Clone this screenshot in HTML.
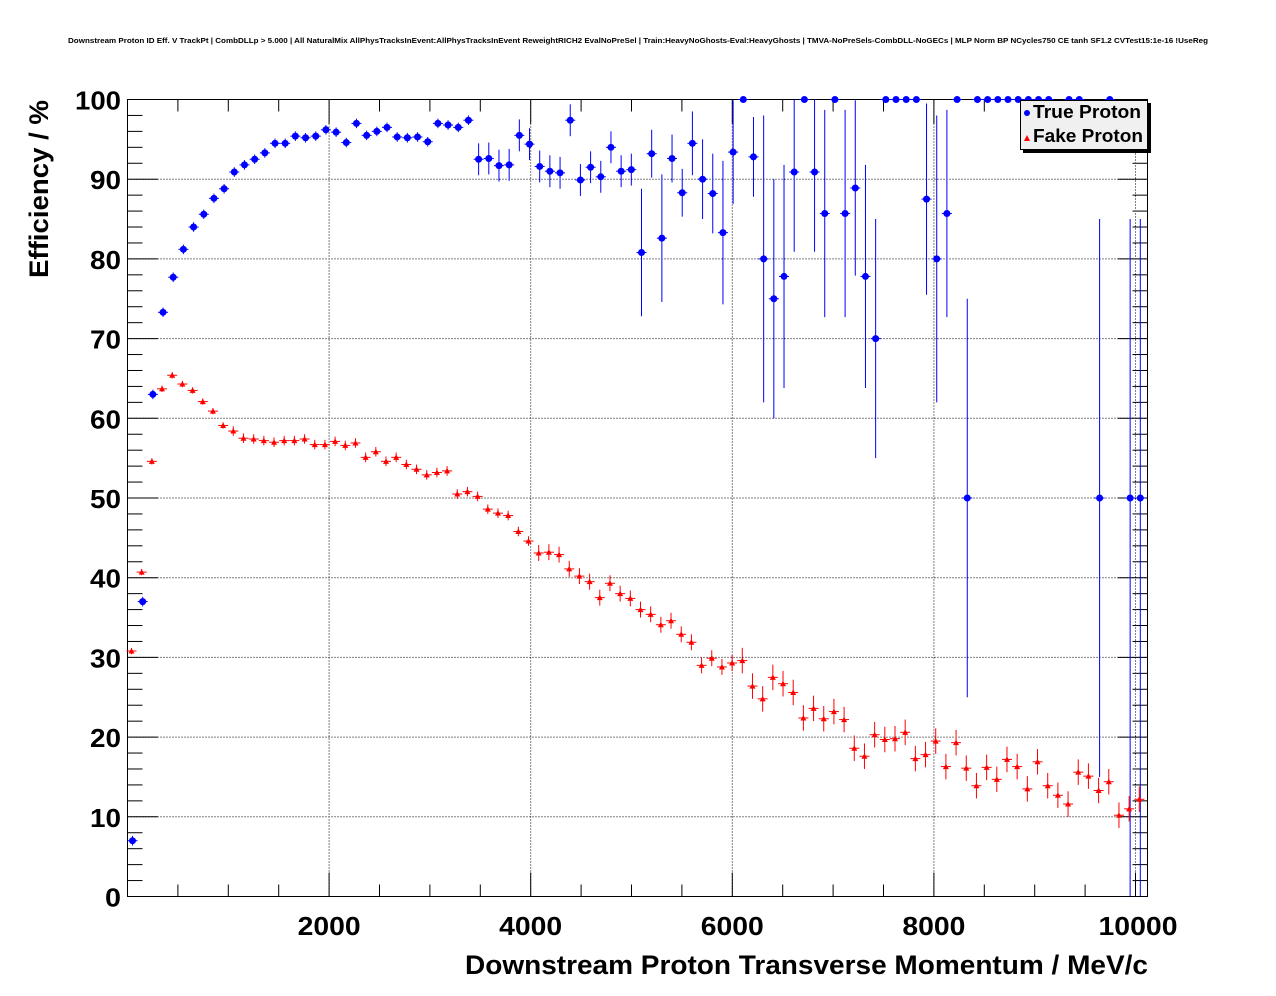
<!DOCTYPE html>
<html><head><meta charset="utf-8"><style>
html,body{margin:0;padding:0;background:#fff;}
svg{display:block;font-family:"Liberation Sans",sans-serif;}
</style></head><body>
<svg id="s" width="1276" height="996" xmlns="http://www.w3.org/2000/svg">
<rect width="1276" height="996" fill="#fff"/>
<text x="68" y="43" font-size="7.5" font-weight="bold" textLength="1140" lengthAdjust="spacingAndGlyphs">Downstream Proton ID Eff. V TrackPt | CombDLLp &gt; 5.000 | All NaturalMix AllPhysTracksInEvent:AllPhysTracksInEvent ReweightRICH2 EvalNoPreSel | Train:HeavyNoGhosts-Eval:HeavyGhosts | TMVA-NoPreSels-CombDLL-NoGECs | MLP Norm BP NCycles750 CE tanh SF1.2 CVTest15:1e-16 !UseReg</text>
<g id="grid" stroke="#000" stroke-width="1" stroke-dasharray="1,2"></g>
<g id="ticks" stroke="#000" stroke-width="1"></g>
<rect x="127.5" y="99.5" width="1020" height="797" fill="none" stroke="#000" stroke-width="1"/>
<g id="labels" font-size="26" font-weight="bold"></g>
<text x="465" y="974" font-size="27" font-weight="bold" textLength="683" lengthAdjust="spacingAndGlyphs">Downstream Proton Transverse Momentum / MeV/c</text>
<text transform="translate(48,278) rotate(-90)" font-size="27" font-weight="bold" textLength="178" lengthAdjust="spacingAndGlyphs">Efficiency / %</text>
<g id="data"></g>
<rect x="1023" y="103" width="128" height="50" fill="#000"/>
<rect x="1020.5" y="100.5" width="127" height="49" fill="#f0f0f0" stroke="#000"/>
<circle cx="1027" cy="113" r="3" fill="#00f"/>
<text x="1033" y="118" font-size="18" font-weight="bold" textLength="108" lengthAdjust="spacingAndGlyphs">True Proton</text>
<path d="M1024,141 L1030,141 L1027,135 Z" fill="#f00"/>
<text x="1033" y="142" font-size="18" font-weight="bold" textLength="110" lengthAdjust="spacingAndGlyphs">Fake Proton</text>
</svg>
<script>
var NS="http://www.w3.org/2000/svg";
function el(p,t,a,txt){var e=document.createElementNS(NS,t);for(var k in a)e.setAttribute(k,a[k]);if(txt!=null)e.textContent=txt;document.getElementById(p).appendChild(e);}
var L=127.5,R=1147.5,T=99.5,B=896.5;
function X(m){return 127.5+m*0.1008;}
function Y(v){return 896.5-v*7.97;}
for(var v=0;v<=100;v+=2){var y=Y(v);var maj=v%10==0;
 el("ticks","line",{x1:L,y1:y,x2:L+(maj?30:15),y2:y});
 el("ticks","line",{x1:R,y1:y,x2:R-(maj?30:15),y2:y});
 if(maj){ if(v>0&&v<100) el("grid","line",{x1:L,y1:y,x2:R,y2:y});
  var w=v==100?46:(v==0?16:31);
  el("labels","text",{x:121-w,y:y+10,textLength:w,lengthAdjust:"spacingAndGlyphs"},String(v));}
}
for(var m=0;m<=10000;m+=500){var x=X(m);var maj=m%2000==0;
 el("ticks","line",{x1:x,y1:B,x2:x,y2:B-(maj?24:12)});
 el("ticks","line",{x1:x,y1:T,x2:x,y2:T+(maj?24:12)});
 if(maj&&m>0){el("grid","line",{x1:x,y1:T,x2:x,y2:B});
  var w=m==10000?79:63; var cx=(m==10000?1138:x);
  el("labels","text",{x:cx-w/2,y:935,textLength:w,lengthAdjust:"spacingAndGlyphs"},String(m));}
}
var blue=[7,37,63,73.3,77.7,81.2,84,85.6,87.6,88.8,90.9,91.8,92.5,93.3,94.5,94.5,95.4,95.2,95.4,96.2,95.9,94.6,97,95.5,96,96.5,95.3,95.2,95.3,94.7,97,96.8,96.5,97.4,92.5,92.6,91.7,91.8,95.5,94.4,91.6,91,90.8,97.4,89.9,91.5,90.3,94,91,91.2,80.8,93.2,82.6,92.6,88.3,94.5,90,88.2,83.3,93.4,100,92.8,80,75,77.8,90.9,100,90.9,85.7,100,85.7,88.9,77.8,70,100,100,100,100,87.5,80,85.7,100,50,100,100,100,100,100,100,100,100,null,100,100,null,50,100,null,50,50];
var berr={50:8,51:3,52:8,53:3,54:3,55:4,56:5,57:5,58:9,59:6.5,61:5,62:18,63:15,64:14,65:10,67:10,68:13,70:13,71:11,72:14,73:15,78:12,79:18,80:13,82:25,95:35,98:50,99:50};
var red=[30.8,40.7,54.6,63.7,65.4,64.3,63.5,62.1,60.9,59.1,58.4,57.5,57.4,57.2,57.0,57.2,57.2,57.4,56.7,56.7,57.1,56.6,56.9,55.1,55.8,54.6,55.1,54.2,53.6,52.9,53.2,53.4,50.5,50.8,50.2,48.6,48.1,47.8,45.8,44.6,43.1,43.2,42.9,41.1,40.2,39.5,37.5,39.3,38.0,37.4,36.0,35.4,34.1,34.6,32.9,31.9,29.0,29.9,28.8,29.3,29.6,26.4,24.8,27.5,26.7,25.6,22.4,23.6,22.3,23.2,22.2,18.6,17.6,20.3,19.7,19.8,20.6,17.3,17.8,19.5,16.3,19.3,16.1,13.9,16.2,14.7,17.2,16.3,13.5,16.9,13.9,12.7,11.6,15.6,15.1,13.3,14.4,10.2,11.0,12.2];
function px(i){return 132.5+i*10.18;}
for(var i=0;i<blue.length;i++){var v=blue[i];if(v==null)continue;var x=px(i),y=Y(v);
 var e=berr[i]!=null?berr[i]:(i<34?0.6:(i<50?2:4));
 var up=Math.min(v+e,100),dn=Math.max(v-e,0);
 if(i>=98){up=85;dn=0;}
 if(v<100) el("data","line",{x1:x,y1:Y(up),x2:x,y2:Y(dn),stroke:"#00f","stroke-width":1});
 el("data","line",{x1:x-5,y1:y,x2:x+5,y2:y,stroke:"#00f","stroke-width":1});
 el("data","circle",{cx:x,cy:y,r:3.5,fill:"#00f"});
}
for(var i=0;i<red.length;i++){var v=red[i];var x=px(i)-1,y=Y(v);
 var e=i<10?0.4:(i<40?0.6:(i<60?1:1.6));
 el("data","line",{x1:x,y1:Y(v+e),x2:x,y2:Y(v-e),stroke:"#f00","stroke-width":1});
 el("data","line",{x1:x-5,y1:y,x2:x+5,y2:y,stroke:"#f00","stroke-width":1});
 el("data","path",{d:"M"+(x-3)+","+(y+2.5)+" L"+(x+3)+","+(y+2.5)+" L"+x+","+(y-3)+" Z",fill:"#f00"});
}
</script>
</body></html>
